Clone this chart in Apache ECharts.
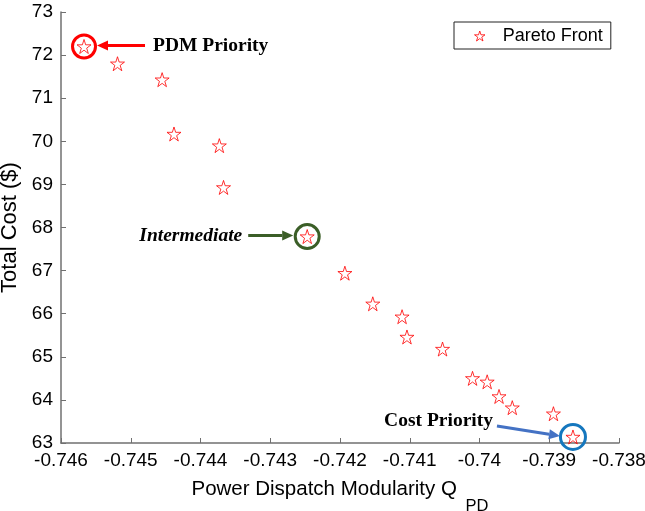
<!DOCTYPE html>
<html><head><meta charset="utf-8">
<script src="https://cdn.jsdelivr.net/npm/echarts@6/dist/echarts.min.js"></script>
<style>html,body{margin:0;padding:0;background:#fff}#c{width:645px;height:511px}</style>
</head><body><div id="c"></div>
<script>
// ---- data ----
const modularity = [-0.74567,-0.74519,-0.74455,-0.74438,-0.74373,-0.74367,-0.74247,-0.74193,-0.74153,-0.74111,-0.74104,-0.74053,-0.74010,-0.73989,-0.73972,-0.73953,-0.73894,-0.73866];
const totalCost  = [72.20,71.80,71.43,70.17,69.90,68.93,67.79,66.94,66.23,65.93,65.46,65.18,64.50,64.42,64.08,63.82,63.68,63.14];
const seriesName = 'Pareto Front';
const xRange = [-0.746, -0.738];
const yRange = [63, 73];
const highlightLabels = ['PDM Priority', 'Intermediate', 'Cost Priority'];
const highlightIndex = [0, 6, 17];

// ---- styles ----
const starPath = 'path://M0,-10L2.245,-3.09L9.511,-3.09L3.633,1.18L5.878,8.09L0,3.82L-5.878,8.09L-3.633,1.18L-9.511,-3.09L-2.245,-3.09Z';
const sansFont = '"Liberation Sans", Arial, Helvetica, sans-serif';
const serifFont = '"Liberation Serif", "Times New Roman", serif';
const axisGray = '#707070';

const chart = echarts.init(document.getElementById('c'), null, {renderer: 'canvas'});
const fmt = v => parseFloat(Number(v).toFixed(3)).toString();

chart.setOption({
  animation: false,
  backgroundColor: '#fff',
  grid: {left: 61, right: 26, top: 12, bottom: 68, containLabel: false, outerBoundsMode: 'none'},
  legend: {
    data: [{name: seriesName, icon: starPath}],
    left: 454, top: 22,
    padding: [5, 8, 4, 20],
    itemWidth: 36, itemHeight: 10,
    borderColor: '#222', borderWidth: 1, backgroundColor: '#fff',
    itemStyle: {color: 'rgba(0,0,0,0)', borderColor: '#ff0000', borderWidth: 1},
    textStyle: {fontSize: 18, color: '#000', fontFamily: sansFont},
    selectedMode: false
  },
  xAxis: {
    type: 'value', min: xRange[0], max: xRange[1], interval: 0.001,
    name: '{a|Power Dispatch Modularity Q }{s|PD}',
    nameLocation: 'middle', nameGap: 36,
    nameTextStyle: {
      fontFamily: sansFont, color: '#000',
      rich: {
        a: {fontSize: 20.5, fontFamily: sansFont, color: '#000', lineHeight: 24, verticalAlign: 'top'},
        s: {fontSize: 16.5, fontFamily: sansFont, color: '#000', lineHeight: 16, padding: [19, 0, 0, 3], verticalAlign: 'top'}
      }
    },
    axisLine: {show: true, onZero: false, lineStyle: {color: axisGray, width: 1.5}},
    axisTick: {show: true, inside: true, length: 5, lineStyle: {color: axisGray, width: 1}},
    axisLabel: {fontSize: 19, color: '#000', fontFamily: sansFont, margin: 8, formatter: fmt, showMinLabel: true, showMaxLabel: true, hideOverlap: false},
    splitLine: {show: false}
  },
  yAxis: {
    type: 'value', min: yRange[0], max: yRange[1], interval: 1,
    name: 'Total Cost ($)', nameLocation: 'middle', nameGap: 33, nameRotate: 90,
    nameTextStyle: {fontSize: 22, color: '#000', fontFamily: sansFont},
    axisLine: {show: true, onZero: false, lineStyle: {color: axisGray, width: 1.5}},
    axisTick: {show: true, inside: true, length: 5, lineStyle: {color: axisGray, width: 1}},
    axisLabel: {fontSize: 19, color: '#000', fontFamily: sansFont, margin: 8, showMinLabel: true, showMaxLabel: true},
    splitLine: {show: false}
  },
  series: [{
    name: seriesName, type: 'scatter',
    data: modularity.map((x, i) => [x, totalCost[i]]),
    symbol: starPath, symbolSize: 14,
    itemStyle: {color: 'rgba(0,0,0,0)', borderColor: '#ff0000', borderWidth: 1},
    emphasis: {disabled: true}, z: 3
  }]
});

// ---- annotations, placed relative to highlighted points ----
const annStyle = [
  {color: '#ff0000', arrowColor: '#ff0000', r: 11.5, from: [61, -1], to: [13, -1], text: [69, -1], align: 'left', font: 'bold 19.5px ' + serifFont},
  {color: '#3b5e27', arrowColor: '#3b5e27', r: 12, from: [-59, -1], to: [-14, -1], text: [-65, -1], align: 'right', font: 'italic bold 19.5px ' + serifFont},
  {color: '#1577be', arrowColor: '#4472c4', r: 12.5, from: [-76, -11], to: [-13, -1], text: [-80, -16], align: 'right', font: 'bold 19.5px ' + serifFont}
];
const graphics = [];
highlightIndex.forEach((idx, k) => {
  const p = chart.convertToPixel({seriesIndex: 0}, [modularity[idx], totalCost[idx]]);
  const s = annStyle[k];
  graphics.push({type: 'circle', shape: {cx: p[0], cy: p[1], r: s.r}, style: {fill: 'none', stroke: s.color, lineWidth: 3}, z: 10});
  const x1 = p[0] + s.from[0], y1 = p[1] + s.from[1];
  const x2 = p[0] + s.to[0], y2 = p[1] + s.to[1];
  const dx = x2 - x1, dy = y2 - y1, L = Math.hypot(dx, dy);
  const ux = dx / L, uy = dy / L, hl = 11, hw = 5;
  const bx = x2 - ux * hl, by = y2 - uy * hl;
  graphics.push({type: 'line', shape: {x1: x1, y1: y1, x2: bx, y2: by}, style: {stroke: s.arrowColor, lineWidth: 3}, z: 10});
  graphics.push({type: 'polygon', shape: {points: [[x2, y2], [bx - uy * hw, by + ux * hw], [bx + uy * hw, by - ux * hw]]}, style: {fill: s.arrowColor}, z: 10});
  graphics.push({type: 'text', x: p[0] + s.text[0], y: p[1] + s.text[1],
    style: {text: highlightLabels[k], font: s.font, fill: '#000', align: s.align, textAlign: s.align, verticalAlign: 'middle', textVerticalAlign: 'middle'}, z: 10});
});
chart.setOption({graphic: graphics});
</script>
</body></html>
